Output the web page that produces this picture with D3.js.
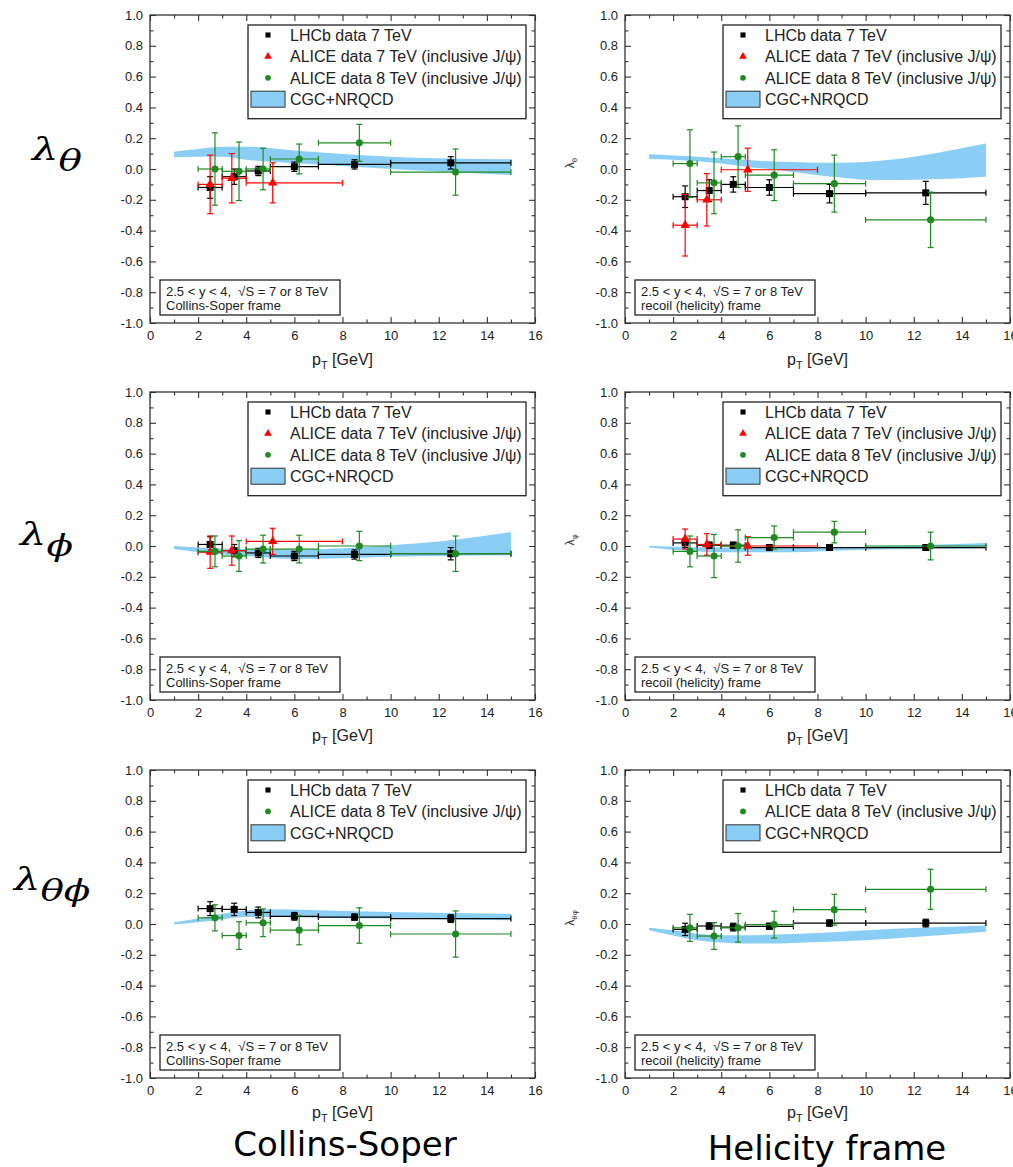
<!DOCTYPE html>
<html>
<head>
<meta charset="utf-8">
<script src="https://cdn.jsdelivr.net/npm/d3@7"></script>
<style>
  body { margin: 0; background: #fff; }
  svg { display: block; }
</style>
</head>
<body>
<svg id="fig" width="1013" height="1167" font-family="Liberation Sans, Arial, sans-serif"></svg>
<script>
// BINS AND TICKS

var binLo = [2, 3, 4, 5, 7, 10];
var binHi = [3, 4, 5, 7, 10, 15];
var lhcbPt = [2.5, 3.5, 4.5, 6, 8.5, 12.5];
var alice8Pt = [2.7, 3.7, 4.7, 6.2, 8.7, 12.7];
var alice7Pt = [2.5, 3.4, 5.1];
var alice7Lo = [2, 3, 4];
var alice7Hi = [3, 4, 8];

var xMajor = [0, 2, 4, 6, 8, 10, 12, 14, 16];
var xMinor = [1, 3, 5, 7, 9, 11, 13, 15];
var yMajor = [-1.0, -0.8, -0.6, -0.4, -0.2, 0.0, 0.2, 0.4, 0.6, 0.8, 1.0];
var yMinor = [-0.9, -0.7, -0.5, -0.3, -0.1, 0.1, 0.3, 0.5, 0.7, 0.9];

var legendLabels = ["LHCb data 7 TeV", "ALICE data 7 TeV (inclusive J/\u03c8)", "ALICE data 8 TeV (inclusive J/\u03c8)", "CGC+NRQCD"];
var infoLine1 = "2.5 < y < 4,  \u221aS = 7 or 8 TeV";
var frameCS = "Collins-Soper frame";
var frameHX = "recoil (helicity) frame";

// LAMBDA THETA - COLLINS-SOPER

var thCS_lhcb = [-0.12, -0.05, -0.013, 0.015, 0.03, 0.04];
var thCS_lhcbErr = [0.07, 0.05, 0.03, 0.03, 0.03, 0.04];
var thCS_a7 = [-0.10, -0.06, -0.09];
var thCS_a7Err = [0.19, 0.16, 0.13];
var thCS_a8 = [0.0, -0.015, 0.0, 0.065, 0.17, -0.02];
var thCS_a8Err = [0.235, 0.19, 0.135, 0.097, 0.12, 0.15];
var thCS_bandPt = [1, 2, 3, 4, 6, 8, 10, 12, 15];
var thCS_bandHi = [0.112, 0.13, 0.145, 0.145, 0.12, 0.097, 0.08, 0.07, 0.063];
var thCS_bandLo = [0.076, 0.08, 0.08, 0.06, 0.037, 0.02, 0.0, -0.017, -0.04];

// LAMBDA THETA - HELICITY

var thHX_lhcb = [-0.18, -0.14, -0.10, -0.12, -0.16, -0.155];
var thHX_lhcbErr = [0.07, 0.07, 0.05, 0.05, 0.06, 0.075];
var thHX_a7 = [-0.365, -0.2, -0.005];
var thHX_a7Err = [0.2, 0.17, 0.14];
var thHX_a8 = [0.035, -0.09, 0.08, -0.04, -0.095, -0.33];
var thHX_a8Err = [0.22, 0.2, 0.2, 0.165, 0.185, 0.18];
var thHX_bandPt = [1, 2, 3, 4, 5, 6, 7, 8, 9, 10, 11, 12, 13, 14, 15];
var thHX_bandHi = [0.095, 0.088, 0.08, 0.07, 0.06, 0.05, 0.045, 0.04, 0.04, 0.045, 0.06, 0.08, 0.105, 0.135, 0.165];
var thHX_bandLo = [0.065, 0.06, 0.05, 0.035, 0.015, 0.0, -0.02, -0.04, -0.055, -0.07, -0.072, -0.07, -0.065, -0.06, -0.05];

// LAMBDA PHI - COLLINS-SOPER

var phCS_lhcb = [0.01, -0.03, -0.045, -0.065, -0.055, -0.05];
var phCS_lhcbErr = [0.05, 0.04, 0.03, 0.03, 0.03, 0.04];
var phCS_a7 = [-0.04, -0.03, 0.03];
var phCS_a7Err = [0.105, 0.095, 0.085];
var phCS_a8 = [-0.035, -0.065, -0.02, -0.02, 0.0, -0.05];
var phCS_a8Err = [0.1, 0.1, 0.09, 0.09, 0.095, 0.115];
var phCS_bandPt = [1, 2, 4, 6, 8, 10, 12, 15];
var phCS_bandHi = [0.0, -0.01, -0.02, -0.025, -0.015, 0.005, 0.03, 0.09];
var phCS_bandLo = [-0.02, -0.04, -0.065, -0.085, -0.08, -0.07, -0.065, -0.06];

// LAMBDA PHI - HELICITY

var phHX_lhcb = [0.02, 0.005, 0.005, -0.01, -0.01, -0.01];
var phHX_lhcbErr = [0.03, 0.02, 0.02, 0.015, 0.015, 0.015];
var phHX_a7 = [0.045, 0.01, 0.0];
var phHX_a7Err = [0.065, 0.07, 0.06];
var phHX_a8 = [-0.035, -0.065, 0.0, 0.055, 0.09, 0.0];
var phHX_a8Err = [0.1, 0.14, 0.105, 0.075, 0.07, 0.09];
var phHX_bandPt = [1, 4, 7, 10, 12, 15];
var phHX_bandHi = [0.0, -0.01, -0.01, -0.005, 0.005, 0.02];
var phHX_bandLo = [-0.01, -0.04, -0.04, -0.025, -0.02, -0.015];

// LAMBDA THETA-PHI - COLLINS-SOPER

var tpCS_lhcb = [0.1, 0.095, 0.075, 0.05, 0.045, 0.035];
var tpCS_lhcbErr = [0.045, 0.04, 0.035, 0.025, 0.02, 0.025];
var tpCS_a8 = [0.04, -0.075, 0.008, -0.04, -0.01, -0.065];
var tpCS_a8Err = [0.085, 0.09, 0.09, 0.095, 0.115, 0.15];
var tpCS_bandPt = [1, 2, 3, 4, 5, 7, 10, 15];
var tpCS_bandHi = [0.012, 0.035, 0.067, 0.087, 0.095, 0.09, 0.078, 0.067];
var tpCS_bandLo = [-0.002, 0.012, 0.03, 0.045, 0.045, 0.04, 0.035, 0.024];

// LAMBDA THETA-PHI - HELICITY

var tpHX_lhcb = [-0.035, -0.013, -0.02, -0.015, 0.006, 0.006];
var tpHX_lhcbErr = [0.04, 0.02, 0.025, 0.02, 0.02, 0.025];
var tpHX_a8 = [-0.025, -0.078, -0.025, -0.004, 0.093, 0.225];
var tpHX_a8Err = [0.088, 0.087, 0.093, 0.087, 0.1, 0.13];
var tpHX_bandPt = [1, 2, 3, 4, 5, 6, 8, 10, 12, 15];
var tpHX_bandHi = [-0.024, -0.04, -0.063, -0.073, -0.073, -0.07, -0.058, -0.04, -0.026, -0.009];
var tpHX_bandLo = [-0.04, -0.075, -0.105, -0.12, -0.127, -0.127, -0.117, -0.105, -0.085, -0.05];

// LAYOUT AND COLOURS

var colLeft = [150, 625];
var rowTop = [15, 392, 770];
var titleGap = [42, 41, 40];
var plotW = 385, plotH = 308;
var frameCol = "#333";
var bandCol = "#8acef5";
var green = "#1f8a22";

var svg = d3.select("#fig");
svg.append("rect").attr("width", 1013).attr("height", 1167).attr("fill", "#fff");

var panels = [
  {col: 0, row: 0, lhcb: thCS_lhcb, lhcbErr: thCS_lhcbErr, a7: thCS_a7, a7Err: thCS_a7Err, a8: thCS_a8, a8Err: thCS_a8Err,
   bandPt: thCS_bandPt, bandHi: thCS_bandHi, bandLo: thCS_bandLo, frame: frameCS},
  {col: 1, row: 0, lhcb: thHX_lhcb, lhcbErr: thHX_lhcbErr, a7: thHX_a7, a7Err: thHX_a7Err, a8: thHX_a8, a8Err: thHX_a8Err,
   bandPt: thHX_bandPt, bandHi: thHX_bandHi, bandLo: thHX_bandLo, frame: frameHX, ylab: ["\u03bb", "\u03b8"]},
  {col: 0, row: 1, lhcb: phCS_lhcb, lhcbErr: phCS_lhcbErr, a7: phCS_a7, a7Err: phCS_a7Err, a8: phCS_a8, a8Err: phCS_a8Err,
   bandPt: phCS_bandPt, bandHi: phCS_bandHi, bandLo: phCS_bandLo, frame: frameCS},
  {col: 1, row: 1, lhcb: phHX_lhcb, lhcbErr: phHX_lhcbErr, a7: phHX_a7, a7Err: phHX_a7Err, a8: phHX_a8, a8Err: phHX_a8Err,
   bandPt: phHX_bandPt, bandHi: phHX_bandHi, bandLo: phHX_bandLo, frame: frameHX, ylab: ["\u03bb", "\u03c6"]},
  {col: 0, row: 2, lhcb: tpCS_lhcb, lhcbErr: tpCS_lhcbErr, a8: tpCS_a8, a8Err: tpCS_a8Err,
   bandPt: tpCS_bandPt, bandHi: tpCS_bandHi, bandLo: tpCS_bandLo, frame: frameCS},
  {col: 1, row: 2, lhcb: tpHX_lhcb, lhcbErr: tpHX_lhcbErr, a8: tpHX_a8, a8Err: tpHX_a8Err,
   bandPt: tpHX_bandPt, bandHi: tpHX_bandHi, bandLo: tpHX_bandLo, frame: frameHX, ylab: ["\u03bb", "\u03b8\u03c6"]}
];

// ERROR BARS + MARKERS

function drawSet(g, x, y, pts, lo, hi, vals, errs, color, sym, size) {
  var data = pts.map(function (pt, i) {
    return {pt: pt, lo: lo[i], hi: hi[i], v: vals[i], e: errs[i]};
  });
  var bars = g.append("g").attr("stroke", color).attr("stroke-width", 1.2).attr("fill", "none");
  data.forEach(function (d) {
    var cy = y(d.v), cx = x(d.pt);
    var xl = x(d.lo), xr = x(d.hi), yt = y(d.v + d.e), yb = y(d.v - d.e);
    bars.append("line").attr("x1", xl).attr("x2", xr).attr("y1", cy).attr("y2", cy);
    bars.append("line").attr("x1", xl).attr("x2", xl).attr("y1", cy - 3).attr("y2", cy + 3);
    bars.append("line").attr("x1", xr).attr("x2", xr).attr("y1", cy - 3).attr("y2", cy + 3);
    bars.append("line").attr("x1", cx).attr("x2", cx).attr("y1", yt).attr("y2", yb);
    bars.append("line").attr("x1", cx - 3).attr("x2", cx + 3).attr("y1", yt).attr("y2", yt);
    bars.append("line").attr("x1", cx - 3).attr("x2", cx + 3).attr("y1", yb).attr("y2", yb);
  });
  g.append("g").selectAll("path").data(data).join("path")
    .attr("transform", function (d) { return "translate(" + x(d.pt) + "," + y(d.v) + ")"; })
    .attr("d", d3.symbol(sym, size))
    .attr("fill", color);
}

function styleAxis(sel) {
  sel.attr("font-family", null).attr("font-size", null);
  sel.select(".domain").remove();
  sel.selectAll(".tick line").attr("stroke", frameCol).attr("stroke-width", 1.1);
  sel.selectAll(".tick text").attr("font-size", 13).attr("fill", "#222");
}

// PANELS

panels.forEach(function (p) {
  var left = colLeft[p.col], top = rowTop[p.row];
  var x = d3.scaleLinear().domain([0, 16]).range([left, left + plotW]);
  var y = d3.scaleLinear().domain([-1, 1]).range([top + plotH, top]);
  var g = svg.append("g");

  // theory band
  var area = d3.area()
    .x(function (d) { return x(d.pt); })
    .y0(function (d) { return y(d.lo); })
    .y1(function (d) { return y(d.hi); })
    .curve(d3.curveMonotoneX);
  g.append("path")
    .datum(p.bandPt.map(function (pt, i) { return {pt: pt, lo: p.bandLo[i], hi: p.bandHi[i]}; }))
    .attr("d", area)
    .attr("fill", bandCol);

  drawSet(g, x, y, lhcbPt, binLo, binHi, p.lhcb, p.lhcbErr, "#000", d3.symbolSquare, 49);
  if (p.a7) drawSet(g, x, y, alice7Pt, alice7Lo, alice7Hi, p.a7, p.a7Err, "#f00", d3.symbolTriangle, 38);
  drawSet(g, x, y, alice8Pt, binLo, binHi, p.a8, p.a8Err, green, d3.symbolCircle, 40);

  // axes, ticks pointing inward on all four sides
  g.append("g").attr("transform", "translate(0," + (top + plotH) + ")")
    .call(d3.axisBottom(x).tickValues(xMajor).tickSizeInner(-6).tickSizeOuter(0).tickPadding(8).tickFormat(d3.format("d")))
    .call(styleAxis);
  g.append("g").attr("transform", "translate(0," + (top + plotH) + ")")
    .call(d3.axisBottom(x).tickValues(xMinor).tickSizeInner(-3.5).tickSizeOuter(0).tickFormat(""))
    .call(styleAxis);
  g.append("g").attr("transform", "translate(0," + top + ")")
    .call(d3.axisTop(x).tickValues(xMajor).tickSizeInner(-6).tickSizeOuter(0).tickFormat(""))
    .call(styleAxis);
  g.append("g").attr("transform", "translate(0," + top + ")")
    .call(d3.axisTop(x).tickValues(xMinor).tickSizeInner(-3.5).tickSizeOuter(0).tickFormat(""))
    .call(styleAxis);
  g.append("g").attr("transform", "translate(" + left + ",0)")
    .call(d3.axisLeft(y).tickValues(yMajor).tickSizeInner(-6).tickSizeOuter(0).tickPadding(7)
      .tickFormat(function (d) { return d.toFixed(1); }))
    .call(styleAxis);
  g.append("g").attr("transform", "translate(" + left + ",0)")
    .call(d3.axisLeft(y).tickValues(yMinor).tickSizeInner(-3.5).tickSizeOuter(0).tickFormat(""))
    .call(styleAxis);
  g.append("g").attr("transform", "translate(" + (left + plotW) + ",0)")
    .call(d3.axisRight(y).tickValues(yMajor).tickSizeInner(-6).tickSizeOuter(0).tickFormat(""))
    .call(styleAxis);
  g.append("g").attr("transform", "translate(" + (left + plotW) + ",0)")
    .call(d3.axisRight(y).tickValues(yMinor).tickSizeInner(-3.5).tickSizeOuter(0).tickFormat(""))
    .call(styleAxis);

  g.append("rect").attr("x", left).attr("y", top).attr("width", plotW).attr("height", plotH)
    .attr("fill", "none").attr("stroke", frameCol).attr("stroke-width", 1.3);

  // x axis title
  var xt = g.append("text").attr("x", left + plotW / 2).attr("y", top + plotH + titleGap[p.row])
    .attr("text-anchor", "middle").attr("font-size", 16).attr("fill", "#222");
  xt.append("tspan").text("p");
  xt.append("tspan").attr("font-size", 11).attr("dy", 4).text("T");
  xt.append("tspan").attr("dy", -4).text(" [GeV]");

  // small y label on the helicity panels
  if (p.ylab) {
    var yl = g.append("text")
      .attr("transform", "translate(574," + (top + plotH / 2 - 6) + ") rotate(-90)")
      .attr("text-anchor", "middle").attr("font-size", 12).attr("fill", "#333");
    yl.append("tspan").text(p.ylab[0]);
    yl.append("tspan").attr("font-size", 8).attr("dy", 3).text(p.ylab[1]);
  }

  // legend
  var entries = p.a7 ? [0, 1, 2, 3] : [0, 2, 3];
  var lx = left + 98, ly = top + 10, rowH = 21.4;
  var boxH = 10 + rowH * (entries.length - 1) + 19.5;
  g.append("rect").attr("x", lx).attr("y", ly).attr("width", 278).attr("height", boxH)
    .attr("fill", "#fff").attr("stroke", "#222").attr("stroke-width", 1.3);
  entries.forEach(function (k, i) {
    var cy = ly + 10 + rowH * i;
    if (k === 3) {
      g.append("rect").attr("x", lx + 3).attr("y", cy - 8).attr("width", 34).attr("height", 16)
        .attr("fill", bandCol).attr("stroke", "#333").attr("stroke-width", 1);
    } else {
      var sym = [d3.symbolSquare, d3.symbolTriangle, d3.symbolCircle][k];
      var col = ["#000", "#f00", green][k];
      g.append("path").attr("transform", "translate(" + (lx + 20) + "," + cy + ")")
        .attr("d", d3.symbol(sym, 26)).attr("fill", col);
    }
    g.append("text").attr("x", lx + 42).attr("y", cy + 5.8).attr("font-size", 16).attr("fill", "#222")
      .text(legendLabels[k]);
  });

  // info box
  g.append("rect").attr("x", left + 10).attr("y", top + 265).attr("width", 180).attr("height", 35)
    .attr("fill", "#fff").attr("stroke", "#222").attr("stroke-width", 1.3);
  g.append("text").attr("x", left + 16).attr("y", top + 280.5).attr("font-size", 13).attr("fill", "#222")
    .style("white-space", "pre").text(infoLine1);
  g.append("text").attr("x", left + 16).attr("y", top + 295).attr("font-size", 13).attr("fill", "#222")
    .text(p.frame);
});

// ROW LABELS (wide math-italic lambda)

var rowLabels = [["\u03bb", "\u03b8"], ["\u03bb", "\u03d5"], ["\u03bb", "\u03b8\u03d5"]];
var rowLabelPos = [[32, 160], [20, 545], [14, 890]];
rowLabels.forEach(function (lab, i) {
  var t = svg.append("text")
    .attr("transform", "translate(" + rowLabelPos[i][0] + "," + rowLabelPos[i][1] + ") scale(1.3,1)")
    .attr("font-family", "DejaVu Serif, serif").attr("font-style", "italic").attr("font-size", 32).attr("fill", "#000");
  t.append("tspan").text(lab[0]);
  t.append("tspan").attr("font-size", 30).attr("dy", 11).text(lab[1]);
});

// COLUMN LABELS

svg.append("text").attr("x", 345).attr("y", 1156).attr("text-anchor", "middle")
  .attr("font-family", "DejaVu Sans, sans-serif").attr("font-size", 34).attr("fill", "#000").text("Collins-Soper");
svg.append("text").attr("x", 827).attr("y", 1160).attr("text-anchor", "middle")
  .attr("font-family", "DejaVu Sans, sans-serif").attr("font-size", 34).attr("fill", "#000").text("Helicity frame");
</script>
</body>
</html>
